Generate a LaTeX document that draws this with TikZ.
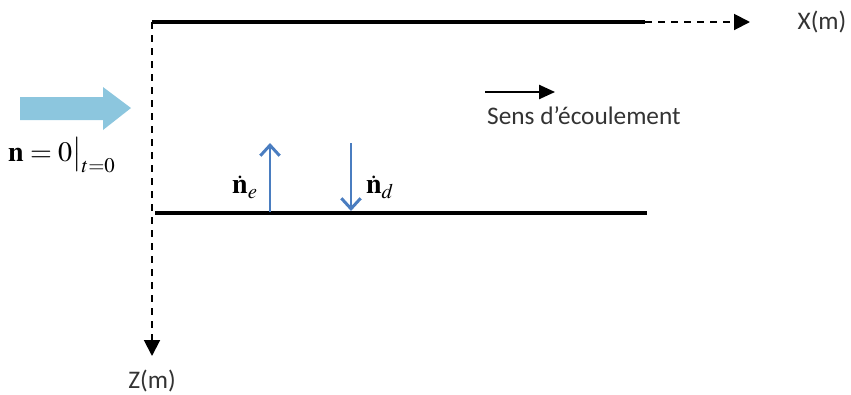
\documentclass[tikz,border=0pt]{standalone}
\usepackage{amsmath}
\usepackage{mathptmx}
\usepackage[no-math]{fontspec}
\setmainfont{Carlito}
\usetikzlibrary{arrows.meta}
\definecolor{flowblue}{RGB}{140,198,222}
\definecolor{fluxblue}{RGB}{74,125,192}
\tikzset{
  wall/.style={line width=2.3pt},
  axis/.style={line width=1.1pt,dash pattern=on 4pt off 3.4pt,-{Triangle[length=9pt,width=9pt]}},
  flux/.style={fluxblue,line width=1.7pt,-{Straight Barb[length=6pt,width=11pt]}},
  lbl/.style={font=\fontsize{14.4}{16}\selectfont,text=black!80},
  mlbl/.style={font=\fontsize{16}{18}\selectfont}
}
\begin{document}
\begin{tikzpicture}[x=0.2mm,y=-0.2mm]
\useasboundingbox (0,0) rectangle (851,394);
% axes
\coordinate (o) at (152,22);
\coordinate (xend) at (645,22);
\coordinate (xtip) at (750,22);
\coordinate (ztip) at (152,356);
\draw[wall] (o) -- (xend);
\draw[axis] (xend) -- (xtip);
\draw[axis] (o) -- (ztip);
\node[lbl] (xlab) at (822,22) {X(m)};
\node[lbl] (zlab) at (152,381) {Z(m)};
% bottom wall
\coordinate (b1) at (155,213);
\coordinate (b2) at (647,213);
\draw[wall] (b1) -- (b2);
% inlet
\fill[flowblue] (20,97) -- (103,97) -- (103,87) -- (131,108) -- (103,130) -- (103,120) -- (20,120) -- cycle;
\node[mlbl] (init) at (62,155) {$\mathbf{n}=0\big|_{\boldsymbol{t=0}}$};
% flow direction
\coordinate (s1) at (485,92);
\coordinate (s2) at (555,92);
\draw[line width=1pt,-{Triangle[length=9pt,width=8pt]}] (s1) -- (s2);
\node[lbl,anchor=west] (sens) at (481,116) {Sens d'écoulement};
% fluxes
\coordinate (e1) at (270,212);
\coordinate (e2) at (270,143);
\coordinate (d1) at (351,143);
\coordinate (d2) at (351,211);
\draw[flux] (e1) -- (e2);
\draw[flux] (d1) -- (d2);
\node[mlbl] (ne) at (245,187) {$\dot{\mathbf{n}}_e$};
\node[mlbl] (nd) at (380,187) {$\dot{\mathbf{n}}_d$};
\end{tikzpicture}
\end{document}
